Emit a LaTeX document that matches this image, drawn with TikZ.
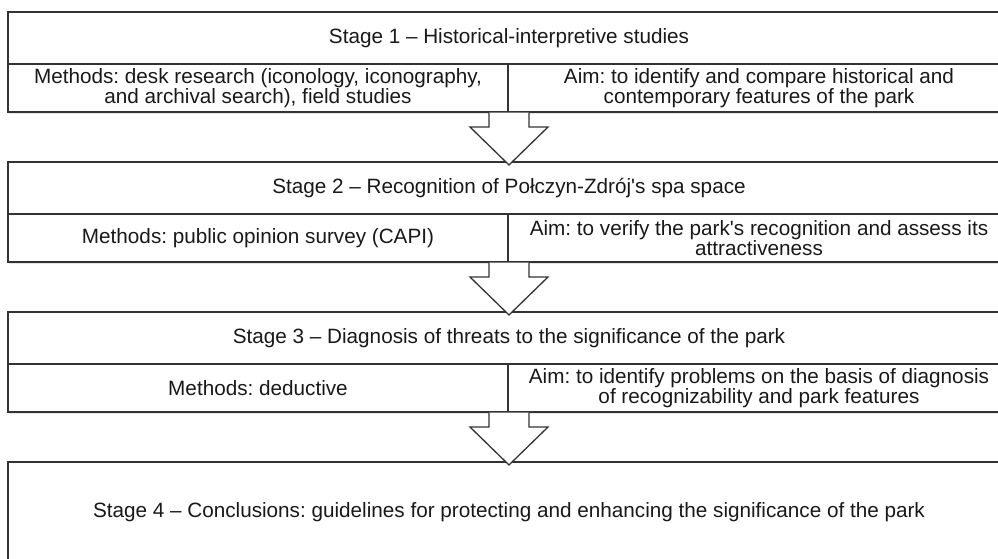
\documentclass[tikz,border=0pt]{standalone}
\usepackage{fontspec}
\setmainfont{Liberation Sans}
\usetikzlibrary{positioning,calc,shadows}
\frenchspacing
\newcommand{\stagefont}{\fontsize{20.7}{20}\selectfont}
\newcommand{\stagearrow}[2]{%
  \draw[bigarrow] let \p1=(#1.south east), \p2=(#2.north) in
    (\x1-19pt,\y1-0.6pt) -- (\x1-19pt,\y1-15pt) -- (\x1-38pt,\y1-15pt) -- (\x1+1pt,\y2-3pt)
    -- (\x1+40pt,\y1-15pt) -- (\x1+21pt,\y1-15pt) -- (\x1+21pt,\y1-0.6pt);}
\tikzset{
  frame/.style={draw=black!80, line width=1.3pt, fill=white, inner sep=0pt, outer sep=0pt,
    align=center, text=black!90, font=\stagefont},
  titlecell/.style={frame, minimum width=1002pt, minimum height=52pt},
  lowcell/.style={frame, minimum height=48pt,
    drop shadow={shadow xshift=1pt, shadow yshift=-2pt, opacity=.2}},
  methodcell/.style={lowcell, minimum width=500pt},
  aimcell/.style={lowcell, minimum width=502pt},
  bigarrow/.style={draw=black!80, line width=1.3pt, fill=white, line join=miter},
}
\begin{document}
\begin{tikzpicture}[x=1pt,y=1pt]
  \clip (0,0) rectangle (998,-559);
  \fill[white] (0,0) rectangle (998,-559);
  \node[methodcell] (m1) at (258,-88) {Methods: desk research (iconology, iconography,\\and archival search), field studies};
  \node[aimcell, right=0pt of m1] (a1) {Aim: to identify and compare historical and\\contemporary features of the park};
  \node[titlecell, above right=0pt and 0pt of m1.north west] (t1) {Stage 1 -- Historical-interpretive studies};
  \node[methodcell] (m2) at (258,-238) {Methods: public opinion survey (CAPI)};
  \node[aimcell, right=0pt of m2] (a2) {Aim: to verify the park\textquotesingle s recognition and assess its\\attractiveness};
  \node[titlecell, above right=0pt and 0pt of m2.north west] (t2) {Stage 2 -- Recognition of Połczyn-Zdrój\textquotesingle s spa space};
  \node[methodcell] (m3) at (258,-388) {Methods: deductive};
  \node[aimcell, right=0pt of m3] (a3) {Aim: to identify problems on the basis of diagnosis\\of recognizability and park features};
  \node[titlecell, above right=0pt and 0pt of m3.north west] (t3) {Stage 3 -- Diagnosis of threats to the significance of the park};
  \node[titlecell, minimum height=100pt] (t4) at (509,-512) {Stage 4 -- Conclusions: guidelines for protecting and enhancing the significance of the park};
  \stagearrow{m1}{t2}
  \stagearrow{m2}{t3}
  \stagearrow{m3}{t4}
\end{tikzpicture}
\end{document}
